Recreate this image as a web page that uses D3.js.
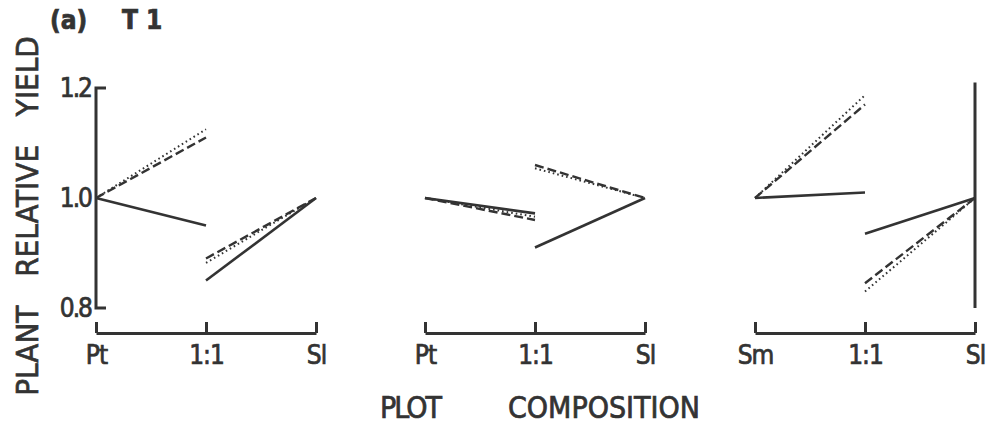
<!DOCTYPE html>
<html>
<head>
<meta charset="utf-8">
<script src="https://cdn.jsdelivr.net/npm/d3@7"></script>
<style>
  html, body { margin: 0; padding: 0; background: #ffffff; }
  svg { display: block; }
  text { font-family: "DejaVu Sans Condensed", "Liberation Sans Narrow", "DejaVu Sans", sans-serif; fill: #333; stroke: #333; stroke-width: 0.7px; }
</style>
</head>
<body>
<script>
// Plot composition tick labels of the three replacement series
const panelCategories = [["Pt", "1:1", "Sl"], ["Pt", "1:1", "Sl"], ["Sm", "1:1", "Sl"]];
const yTicks = [0.8, 1.0, 1.2];

// Relative yield per panel: [first species pure, first species at 1:1, second species at 1:1, second species pure]
const solidYield  = [[1.00, 0.950, 0.850, 1.00], [1.00, 0.972, 0.910, 1.00], [1.00, 1.010, 0.935, 1.00]];
const dashedYield = [[1.00, 1.110, 0.890, 1.00], [1.00, 0.960, 1.060, 1.00], [1.00, 1.170, 0.845, 1.00]];
const dottedYield = [[1.00, 1.125, 0.882, 1.00], [1.00, 0.966, 1.054, 1.00], [1.00, 1.187, 0.830, 1.00]];

const W = 1002, H = 432;
const ink = "#333";
const fontStack = "\"DejaVu Sans Condensed\", \"Liberation Sans Narrow\", sans-serif";

const svg = d3.select("body").append("svg").attr("width", W).attr("height", H);

const y = d3.scaleLinear().domain([0.8, 1.2]).range([308, 88]);
const panelRanges = [[96, 316], [425, 645], [755, 975]];
const axisY = 333;

const series = [
  { values: solidYield,  dash: null,    width: 2.6 },
  { values: dashedYield, dash: "9,4",   width: 2.4 },
  { values: dottedYield, dash: "1.6,3", width: 2.0 }
];

const line = d3.line().x(d => d[0]).y(d => y(d[1]));

panelCategories.forEach((cats, p) => {
  const x = d3.scalePoint().domain(cats).range(panelRanges[p]);

  // composition axis: base line with upward ticks
  const xAxis = d3.axisBottom(x).tickSizeInner(-11).tickSizeOuter(0).tickPadding(13);
  const gx = svg.append("g").attr("transform", `translate(0,${axisY})`).call(xAxis);
  gx.select(".domain").attr("stroke", ink).attr("stroke-width", 3);
  gx.selectAll(".tick line").attr("stroke", ink).attr("stroke-width", 3);
  gx.selectAll(".tick text")
    .attr("fill", ink).attr("font-size", 26)
    .attr("font-family", fontStack)
    .attr("letter-spacing", -1)
    .attr("dy", "0.71em");

  // yield lines: two detached segments per series
  series.forEach(s => {
    const v = s.values[p];
    const segs = [
      [[x(cats[0]), v[0]], [x(cats[1]), v[1]]],
      [[x(cats[1]), v[2]], [x(cats[2]), v[3]]]
    ];
    segs.forEach(seg => {
      svg.append("path")
        .attr("d", line(seg))
        .attr("fill", "none")
        .attr("stroke", ink)
        .attr("stroke-width", s.width)
        .attr("stroke-dasharray", s.dash);
    });
  });
});

// relative yield axis of the first panel, bracket ticks at 0.8 and 1.2
const x0 = panelRanges[0][0];
const yAxis = d3.axisLeft(y).tickValues(yTicks).tickSize(0).tickPadding(5)
  .tickFormat(d3.format(".1f"));
const gy = svg.append("g").attr("transform", `translate(${x0},0)`).call(yAxis);
gy.select(".domain").remove();
gy.selectAll(".tick text").attr("fill", ink).attr("font-size", 26)
  .attr("font-family", fontStack)
  .attr("letter-spacing", -2);
svg.append("path")
  .attr("d", `M${x0 + 10},${y(1.2)}H${x0}V${y(0.8)}H${x0 + 10}`)
  .attr("fill", "none").attr("stroke", ink).attr("stroke-width", 3);

// upright line at the pure Sl stand of the third panel
const x3 = panelRanges[2][1];
svg.append("line")
  .attr("x1", x3).attr("x2", x3)
  .attr("y1", y(1.21)).attr("y2", y(0.8))
  .attr("stroke", ink).attr("stroke-width", 3);

// titles
svg.append("text").attr("x", 50).attr("y", 29).attr("font-size", 26)
  .attr("font-weight", "bold").text("(a)");
svg.append("text").attr("x", 122).attr("y", 29).attr("font-size", 26)
  .attr("font-weight", "bold").attr("xml:space", "preserve").text("T 1");

svg.append("text")
  .attr("transform", "translate(38,216) rotate(-90)")
  .attr("text-anchor", "middle")
  .attr("font-size", 31)
  .attr("word-spacing", 20)
  .text("PLANT RELATIVE YIELD");

svg.append("text").attr("x", 380).attr("y", 418).attr("font-size", 30)
  .attr("letter-spacing", -2).text("PLOT");
svg.append("text").attr("x", 508).attr("y", 418).attr("font-size", 30).text("COMPOSITION");
</script>
</body>
</html>
